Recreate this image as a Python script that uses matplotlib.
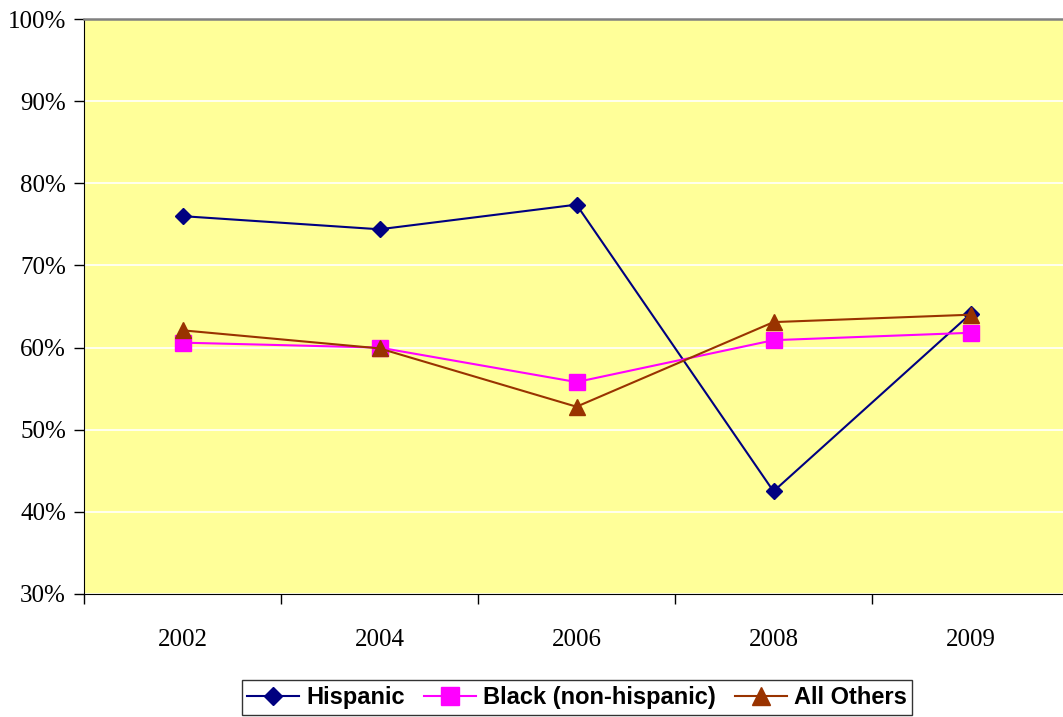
import matplotlib.pyplot as plt
from matplotlib.ticker import PercentFormatter

years = ['2002', '2004', '2006', '2008', '2009']
hispanic = [76.0, 74.4, 77.4, 42.5, 64.1]
black = [60.6, 60.0, 55.8, 60.9, 61.8]
others = [62.1, 59.9, 52.8, 63.1, 64.0]

fig = plt.figure(figsize=(10.63, 7.17), dpi=100)
W, H = 1063.0, 717.0
ax = fig.add_axes([84 / W, 123 / H, 985 / W, 575 / H])
ax.set_facecolor('#FFFF99')

x = range(len(years))
ax.plot(x, hispanic, color='#000080', lw=1.5, marker='D', ms=8, label='Hispanic', zorder=3)
ax.plot(x, black, color='#FF00FF', lw=1.5, marker='s', ms=11, label='Black (non-hispanic)', zorder=3)
ax.plot(x, others, color='#993300', lw=1.5, marker='^', ms=11, label='All Others', zorder=3)

ax.set_xlim(-0.5, 4.5)
ax.set_ylim(30, 100)
ax.set_yticks(range(30, 101, 10))
ax.yaxis.set_major_formatter(PercentFormatter(decimals=0))
ax.grid(axis='y', color='white', lw=1.2)
ax.set_axisbelow(True)

# category labels centred, tick marks on the boundaries
ax.set_xticks([i - 0.5 for i in range(len(years) + 1)])
ax.set_xticklabels([])
ax.set_xticks(list(x), minor=True)
ax.set_xticklabels(years, minor=True)
ax.tick_params(axis='x', which='minor', length=0, pad=25)
ax.tick_params(axis='x', which='major', length=7, width=1, direction='out')
ax.tick_params(axis='y', length=7, width=1, direction='out', pad=6)
for lab in ax.get_xticklabels(minor=True) + ax.get_yticklabels():
    lab.set_fontfamily('Liberation Serif')
    lab.set_fontsize(18)

ax.spines['left'].set_color('black')
ax.spines['bottom'].set_color('black')
ax.spines['top'].set_color('#808080')
ax.spines['top'].set_linewidth(1.8)
ax.spines['right'].set_visible(False)

leg = fig.legend(loc='upper center', bbox_to_anchor=(577 / W, 1 - 680 / H), ncol=3,
                 prop={'family': 'Liberation Sans', 'weight': 'bold', 'size': 17},
                 frameon=True, fancybox=False, edgecolor='black', handlelength=2.2,
                 handletextpad=0.3, columnspacing=0.8, borderpad=0.25, borderaxespad=0,
                 markerscale=1.2)
leg.get_frame().set_linewidth(1.0)

fig.savefig('out.png', dpi=100)
